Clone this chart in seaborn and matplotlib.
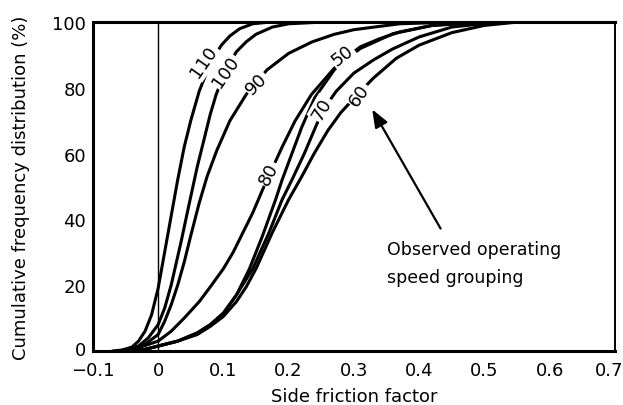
import matplotlib
matplotlib.use("Agg")
import matplotlib.pyplot as plt
import matplotlib.transforms as mtransforms
import seaborn as sns
import pandas as pd

# ---- data ----
speeds = [110, 100, 90, 80, 50, 70, 60]

x110 = [-0.07, -0.055, -0.04, -0.03, -0.02, -0.01, 0.0, 0.01, 0.02, 0.03, 0.04, 0.05, 0.063, 0.08, 0.097, 0.11, 0.125, 0.145, 0.17, 0.25]
y110 = [0, 0.3, 1.2, 3, 6, 11, 19, 30, 41, 52, 62, 70, 79, 87.5, 93, 95.8, 98, 99.5, 100, 100]

x100 = [-0.06, -0.045, -0.03, -0.015, 0.0, 0.01, 0.02, 0.035, 0.049, 0.06, 0.07, 0.08, 0.089, 0.105, 0.12, 0.135, 0.15, 0.175, 0.2, 0.25]
y100 = [0, 0.5, 1.5, 4, 8, 13, 20, 33, 46, 56, 64, 72, 78, 86, 91, 94, 96.3, 98.5, 99.5, 100]

x90 = [-0.06, -0.04, -0.02, 0.0, 0.01, 0.02, 0.03, 0.04, 0.05, 0.063, 0.075, 0.09, 0.11, 0.135, 0.167, 0.2, 0.236, 0.27, 0.3, 0.37, 0.45]
y90 = [0, 0.8, 2, 5, 9, 14, 20, 27, 35, 45, 53, 61, 70, 78, 85.5, 90.5, 94, 96.3, 97.7, 99.5, 100]

x80 = [-0.06, -0.03, 0.0, 0.02, 0.04, 0.063, 0.08, 0.1, 0.115, 0.13, 0.145, 0.16, 0.175, 0.19, 0.21, 0.235, 0.27, 0.31, 0.36, 0.42, 0.5]
y80 = [0, 1, 3, 6, 10, 15, 19.5, 25, 30, 36, 42, 49, 55.5, 62, 70, 78, 86, 92, 96.5, 99, 100]

x50 = [-0.05, -0.02, 0.0, 0.03, 0.06, 0.08, 0.1, 0.12, 0.14, 0.16, 0.18, 0.19, 0.205, 0.22, 0.24, 0.27, 0.29, 0.31, 0.34, 0.37, 0.42, 0.5]
y50 = [0, 0.5, 1.5, 3, 5.5, 8, 11.5, 17, 25, 35, 46, 52, 60, 68, 77, 85.5, 89.5, 92.5, 95, 97, 99, 100]

x70 = [-0.05, -0.02, 0.0, 0.03, 0.06, 0.08, 0.1, 0.12, 0.145, 0.17, 0.19, 0.205, 0.224, 0.24, 0.252, 0.273, 0.3, 0.33, 0.359, 0.4, 0.45, 0.52]
y70 = [0, 0.5, 1.5, 3, 5.5, 8, 11.5, 17, 25, 36, 46, 52, 60, 67.5, 73, 79, 84.5, 88.5, 91.8, 95.5, 98.5, 100]

x60 = [-0.05, -0.02, 0.0, 0.03, 0.06, 0.08, 0.1, 0.12, 0.135, 0.15, 0.175, 0.2, 0.22, 0.239, 0.26, 0.28, 0.308, 0.33, 0.365, 0.4, 0.45, 0.5, 0.55]
y60 = [0, 0.5, 1.5, 3, 5, 7.5, 10.5, 15, 19.5, 25, 36, 46, 53, 60, 67, 72.5, 78.5, 83, 89, 93, 96.8, 99, 100]

curve_x = {110: x110, 100: x100, 90: x90, 80: x80, 50: x50, 70: x70, 60: x60}
curve_y = {110: y110, 100: y100, 90: y90, 80: y80, 50: y50, 70: y70, 60: y60}

# curve label positions (x, y) and rotation
label_x = [0.0705, 0.103, 0.150, 0.170, 0.282, 0.251, 0.308]
label_y = [88, 85, 81.5, 53.8, 90, 73.6, 77.8]
label_rot = [55, 55, 45, 62, 38, 60, 55]

x_ticks = [-0.1, 0, 0.1, 0.2, 0.3, 0.4, 0.5, 0.6, 0.7]
x_ticklabels = ["\u22120.1", "0", "0.1", "0.2", "0.3", "0.4", "0.5", "0.6", "0.7"]
y_ticks = [0, 20, 40, 60, 80, 100]
y_minor = [10, 30, 50, 70, 90]

frames = []
for s in speeds:
    frames.append(pd.DataFrame({"x": curve_x[s], "y": curve_y[s], "speed": str(s)}))
df = pd.concat(frames, ignore_index=True)

sns.set_theme(style="white")
plt.rcParams["font.family"] = ["DejaVu Sans"]
plt.rcParams["text.color"] = "black"

fig = plt.figure(figsize=(6.23, 4.06), dpi=100)
ax = fig.add_axes([0.149, 0.133, 0.838, 0.810])

sns.lineplot(data=df, x="x", y="y", hue="speed", units="speed", estimator=None,
             sort=False, palette={str(s): "black" for s in speeds},
             linewidth=2.2, legend=False, ax=ax)

ax.axvline(0, color="black", linewidth=1.0, zorder=1)

for s, lx, ly, r in zip(speeds, label_x, label_y, label_rot):
    ax.text(lx, ly, str(s), rotation=r, ha="center", va="center", fontsize=13,
            color="black", rotation_mode="anchor",
            bbox=dict(boxstyle="square,pad=0.08", fc="white", ec="none"), zorder=5)

ax.annotate("", xy=(0.326, 74.2), xytext=(0.435, 36.5),
            arrowprops=dict(arrowstyle="-|>,head_length=0.9,head_width=0.35",
                            color="black", lw=1.6))
ax.text(0.351, 31, "Observed operating", fontsize=12.5, ha="left", va="center", color="black")
ax.text(0.351, 22.5, "speed grouping", fontsize=12.5, ha="left", va="center", color="black")

ax.set_xlim(-0.1, 0.7)
ax.set_ylim(0, 100)
ax.set_xticks(x_ticks)
ax.set_xticklabels(x_ticklabels)
ax.set_yticks(y_ticks)
ax.set_yticks(y_minor, minor=True)
ax.tick_params(axis="both", which="both", direction="in", width=1.6,
               labelsize=13, color="black", labelcolor="black", pad=5)
ax.tick_params(axis="x", which="both", length=7, pad=7)
ax.tick_params(axis="y", which="both", length=11)
ax.set_xlabel("Side friction factor", fontsize=13, labelpad=6, color="black")
ax.set_ylabel("Cumulative frequency distribution (%)", fontsize=13, labelpad=16, color="black")

# nudge edge tick labels so they stay clear of each other and the figure edge
last = ax.get_xticklabels()[-1]
last.set_transform(last.get_transform() + mtransforms.ScaledTranslation(-6 / 100, 0, fig.dpi_scale_trans))
first_y = ax.get_yticklabels()[0]
first_y.set_transform(first_y.get_transform() + mtransforms.ScaledTranslation(0, 3 / 100, fig.dpi_scale_trans))

for side in ["left", "bottom", "top"]:
    ax.spines[side].set_linewidth(2.2)
    ax.spines[side].set_color("black")
ax.spines["right"].set_linewidth(1.4)
ax.spines["right"].set_color("black")

fig.savefig("out.png", dpi=100)
